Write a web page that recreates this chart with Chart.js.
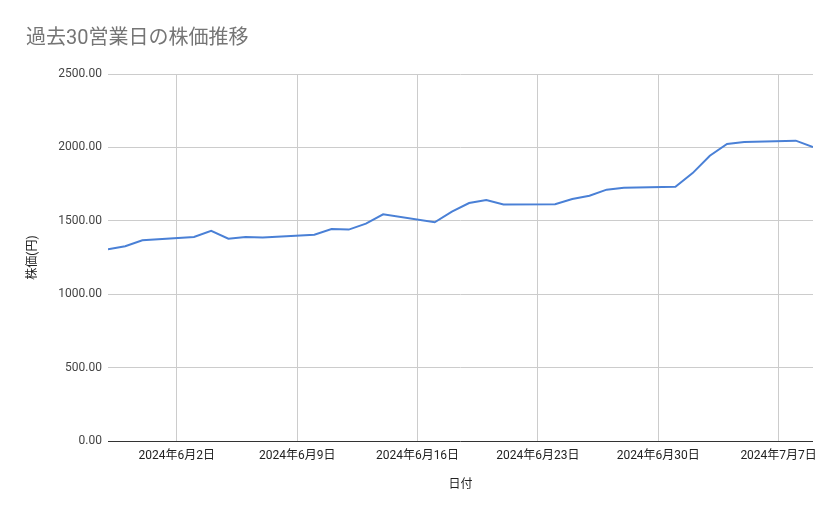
<!DOCTYPE html>
<html>
<head>
<meta charset="utf-8">
<script src="https://cdn.jsdelivr.net/npm/chart.js@4.4.1/dist/chart.umd.min.js"></script>
<style>
html,body{margin:0;padding:0;background:#fff;}
#wrap{width:839px;height:519px;position:relative;}
</style>
</head>
<body>
<div id="wrap"><canvas id="c" width="839" height="519"></canvas></div>
<script>
const dates = ['2024-05-29','2024-05-30','2024-05-31','2024-06-03','2024-06-04','2024-06-05','2024-06-06','2024-06-07',
  '2024-06-10','2024-06-11','2024-06-12','2024-06-13','2024-06-14','2024-06-17','2024-06-18','2024-06-19','2024-06-20','2024-06-21',
  '2024-06-24','2024-06-25','2024-06-26','2024-06-27','2024-06-28','2024-07-01','2024-07-02','2024-07-03','2024-07-04','2024-07-05',
  '2024-07-08','2024-07-09'];
const prices = [1306,1327,1367,1390,1432,1378,1390,1386,1405,1444,1440,1481,1544,1490,1562,1621,1641,1611,1613,1649,1671,1712,1725,1732,1825,1943,2023,2036,2046,2002];
const xTickDates = ['2024-06-02','2024-06-09','2024-06-16','2024-06-23','2024-06-30','2024-07-07'];
const xTickLabels = ['2024年6月2日','2024年6月9日','2024年6月16日','2024年6月23日','2024年6月30日','2024年7月7日'];
const yTicks = [0,500,1000,1500,2000,2500];

const FONT = "Roboto, 'Noto Sans CJK JP', sans-serif";
function dayNum(s){ const [y,m,d] = s.split('-').map(Number); return Date.UTC(y,m-1,d)/86400000; }
const base = dayNum(dates[0]);
const pts = dates.map((d,i)=>({x: dayNum(d)-base, y: prices[i]}));
const tickDays = xTickDates.map(d => dayNum(d)-base);

new Chart(document.getElementById('c'), {
  type: 'line',
  data: { datasets: [{
    data: pts,
    borderColor: '#4a80d6',
    borderWidth: 2,
    pointRadius: 0,
    pointHoverRadius: 0,
    tension: 0,
    fill: false
  }]},
  options: {
    responsive: false,
    animation: false,
    events: [],
    layout: { padding: { left: 26, right: 26, top: 0, bottom: 0 } },
    plugins: {
      legend: { display: false },
      tooltip: { enabled: false },
      title: {
        display: true,
        text: '過去30営業日の株価推移',
        align: 'start',
        color: '#757575',
        font: { family: FONT, size: 20, weight: 'normal' },
        padding: { top: 27, bottom: 23 }
      }
    },
    scales: {
      x: {
        type: 'linear',
        min: 0,
        max: dayNum(dates[dates.length-1]) - base,
        afterBuildTicks: s => { s.ticks = tickDays.map(v => ({ value: v })); },
        afterFit: s => { s.height = 78; },
        grid: { color: '#cccccc', lineWidth: 1, tickLength: 0, drawTicks: false },
        border: { display: false },
        ticks: {
          autoSkip: false, maxRotation: 0, padding: 8,
          color: '#222', font: { family: FONT, size: 12 },
          callback: (v, i) => xTickLabels[i]
        },
        title: {
          display: true, text: '日付', color: '#222',
          font: { family: FONT, size: 12 },
          padding: { top: 0, bottom: 27 }
        }
      },
      y: {
        min: 0, max: 2500,
        afterBuildTicks: s => { s.ticks = yTicks.map(v => ({ value: v })); },
        afterFit: s => { s.width = 82; },
        grid: {
          color: c => c.tick && c.tick.value === 0 ? '#333333' : '#cccccc',
          lineWidth: 1, drawTicks: false, tickLength: 0
        },
        border: { display: false },
        ticks: {
          padding: 6, color: '#444', font: { family: FONT, size: 12 },
          callback: v => Number(v).toFixed(2)
        },
        title: {
          display: true, text: '株価(円)', color: '#222',
          font: { family: FONT, size: 12 },
          padding: { top: 0, bottom: 0 }
        }
      }
    }
  }
});
</script>
</body>
</html>
